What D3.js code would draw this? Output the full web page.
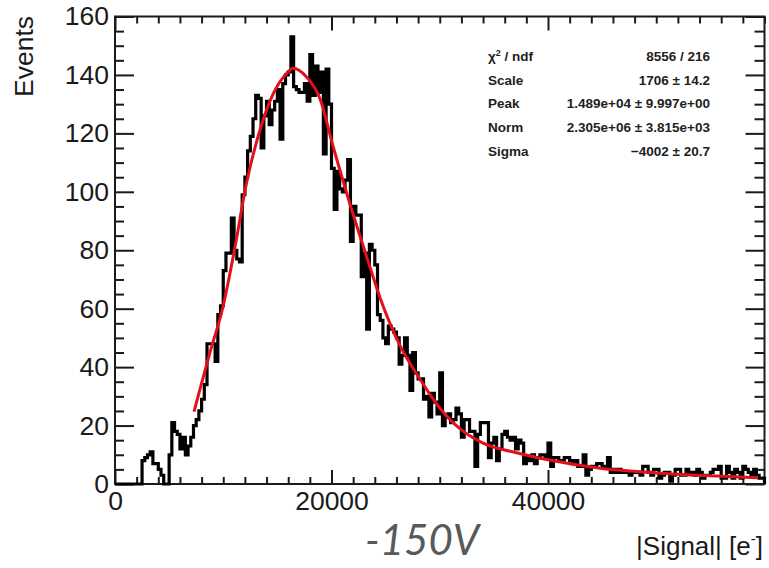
<!DOCTYPE html>
<html>
<head>
<meta charset="utf-8">
<script src="https://cdn.jsdelivr.net/npm/d3@7/dist/d3.min.js"></script>
<style>
	html, body { margin: 0; padding: 0; background: #fff; }
	svg { display: block; font-family: "Liberation Sans", Arial, sans-serif; }
	.axis text { font-size: 26.5px; fill: #1a1a1a; }
	.axis line { stroke: #1a1a1a; stroke-width: 2px; }
	.axis path { display: none; }
	.stats text { font-size: 13.5px; font-weight: bold; fill: #1e1e1e; }
</style>
</head>
<body>
<svg id="chart" width="769" height="568"></svg>
<script>
// histogram: 240 bins of 250 e- starting at 0
var binStart = 0,
	binWidth = 250;

var counts = [
	0, 0, 0, 0, 0, 0, 0, 0, 0, 0,
	8, 9, 10, 11, 7, 7, 5, 3, 0, 0,
	10, 21, 18, 17, 12, 16, 10, 13, 16, 20,
	22, 25, 29, 34, 48, 48, 48, 42, 58, 61,
	73, 79, 79, 91, 80, 77, 76, 99, 105, 114,
	119, 125, 133, 132, 115, 126, 131, 123, 128, 131,
	135, 118, 137, 140, 141, 153, 136, 135, 134, 134,
	137, 131, 147, 133, 143, 134, 141, 113, 142, 130,
	108, 94, 107, 101, 100, 104, 111, 83, 95, 92,
	92, 71, 79, 53, 82, 80, 75, 58, 56, 50,
	48, 54, 53, 52, 50, 41, 44, 50, 44, 32,
	45, 38, 36, 36, 29, 30, 23, 31, 28, 24,
	38, 20, 23, 24, 21, 22, 26, 24, 16, 22,
	22, 18, 18, 6, 17, 21, 21, 21, 9, 14,
	16, 8, 12, 17, 18, 16, 15, 16, 12, 15,
	14, 7, 9, 8, 10, 7, 9, 10, 10, 9,
	14, 6, 9, 9, 8, 8, 9, 9, 8, 7,
	8, 6, 6, 10, 3, 5, 6, 6, 7, 7,
	6, 6, 9, 4, 5, 4, 5, 4, 4, 4,
	3, 4, 4, 4, 3, 6, 6, 4, 3, 5,
	5, 2, 3, 4, 4, 1, 3, 5, 5, 3,
	3, 5, 4, 4, 3, 5, 4, 2, 3, 3,
	4, 5, 5, 6, 2, 2, 6, 4, 2, 5,
	4, 2, 6, 5, 4, 3, 5, 3, 2, 2
];

// langau fit curve, sampled
var fitX = [7300, 8000, 8770, 10000, 11080, 12150, 13380, 14610, 15850, 16460, 17650, 18920, 20150,
	21690, 23230, 24460, 26310, 28150, 30000, 32000, 34000, 37000, 40000, 45000, 50000, 55000, 59400];
var fitY = [24.8, 34.5, 45, 61, 81, 103, 121, 133.5, 140.5, 142.3, 139.5, 132, 115.5,
	96, 78, 64, 47.5, 36, 26, 18.5, 14, 10.8, 8.3, 5.3, 3.8, 2.8, 2.1];

var xMajorTicks = [0, 20000, 40000];
var yMajorTicks = [0, 20, 40, 60, 80, 100, 120, 140, 160];

var statNames = ["χ2 / ndf", "Scale", "Peak", "Norm", "Sigma"];
var statValues = ["8556 / 216", "1706 ± 14.2", "1.489e+04 ± 9.997e+00", "2.305e+06 ± 3.815e+03", "−4002 ± 20.7"];

drawHisto();

function drawHisto() {
	var svg = d3.select("#chart"),
		frame = { left: 115, right: 764.5, top: 16.5, bottom: 484 };

	var x = d3.scaleLinear().domain([0, 60000]).range([frame.left, frame.right]),
		y = d3.scaleLinear().domain([0, 160]).range([frame.bottom, frame.top]);

	var xMinor = d3.range(0, 60001, 2000).filter(function(v) { return xMajorTicks.indexOf(v) < 0; }),
		yMinor = d3.range(0, 161, 5).filter(function(v) { return yMajorTicks.indexOf(v) < 0; });

	// ticks on all four sides, pointing inwards
	svg.append("g").attr("class", "axis")
		.attr("transform", "translate(0," + frame.bottom + ")")
		.call(d3.axisBottom(x).tickValues(xMajorTicks).tickSize(-14).tickSizeOuter(0).tickPadding(7).tickFormat(d3.format("d")));
	svg.append("g").attr("class", "axis")
		.attr("transform", "translate(0," + frame.bottom + ")")
		.call(d3.axisBottom(x).tickValues(xMinor).tickSize(-7).tickSizeOuter(0).tickFormat(""));
	svg.append("g").attr("class", "axis")
		.attr("transform", "translate(0," + frame.top + ")")
		.call(d3.axisTop(x).tickValues(xMajorTicks).tickSize(-14).tickSizeOuter(0).tickFormat(""));
	svg.append("g").attr("class", "axis")
		.attr("transform", "translate(0," + frame.top + ")")
		.call(d3.axisTop(x).tickValues(xMinor).tickSize(-7).tickSizeOuter(0).tickFormat(""));

	svg.append("g").attr("class", "axis")
		.attr("transform", "translate(" + frame.left + ",0)")
		.call(d3.axisLeft(y).tickValues(yMajorTicks).tickSize(-19).tickSizeOuter(0).tickPadding(6));
	svg.append("g").attr("class", "axis")
		.attr("transform", "translate(" + frame.left + ",0)")
		.call(d3.axisLeft(y).tickValues(yMinor).tickSize(-9).tickSizeOuter(0).tickFormat(""));
	svg.append("g").attr("class", "axis")
		.attr("transform", "translate(" + frame.right + ",0)")
		.call(d3.axisRight(y).tickValues(yMajorTicks).tickSize(-19).tickSizeOuter(0).tickFormat(""));
	svg.append("g").attr("class", "axis")
		.attr("transform", "translate(" + frame.right + ",0)")
		.call(d3.axisRight(y).tickValues(yMinor).tickSize(-10).tickSizeOuter(0).tickFormat(""));

	svg.append("rect")
		.attr("x", frame.left).attr("y", frame.top)
		.attr("width", frame.right - frame.left).attr("height", frame.bottom - frame.top)
		.attr("fill", "none").attr("stroke", "#1a1a1a").attr("stroke-width", 2);

	// histogram outline
	var pts = [[binStart, 0]];
	counts.forEach(function(c, i) {
		pts.push([binStart + i * binWidth, c]);
	});
	pts.push([binStart + counts.length * binWidth, counts[counts.length - 1]]);
	pts.push([binStart + counts.length * binWidth, 0]);

	svg.append("path")
		.datum(pts)
		.attr("fill", "none")
		.attr("stroke", "#000")
		.attr("stroke-width", 3.2)
		.attr("stroke-linejoin", "miter")
		.attr("d", d3.line()
			.x(function(d) { return x(d[0]); })
			.y(function(d) { return y(d[1]); })
			.curve(d3.curveStepAfter));

	// fit
	svg.append("path")
		.datum(d3.zip(fitX, fitY))
		.attr("fill", "none")
		.attr("stroke", "#e3101b")
		.attr("stroke-width", 3)
		.attr("d", d3.line()
			.x(function(d) { return x(d[0]); })
			.y(function(d) { return y(d[1]); })
			.curve(d3.curveMonotoneX));

	// stats box
	var stats = svg.append("g").attr("class", "stats");
	statNames.forEach(function(name, i) {
		var yy = 61 + i * 23.7;
		var t = stats.append("text").attr("x", 488).attr("y", yy);
		if (i === 0) {
			t.append("tspan").text("χ");
			t.append("tspan").attr("dy", -5).style("font-size", "9px").text("2");
			t.append("tspan").attr("dy", 5).text(" / ndf");
		} else {
			t.text(name);
		}
		stats.append("text").attr("x", 710).attr("y", yy).attr("text-anchor", "end").text(statValues[i]);
	});

	// axis titles
	svg.append("text")
		.attr("transform", "translate(33,16) rotate(-90)")
		.attr("text-anchor", "end")
		.style("font-size", "26.5px")
		.attr("fill", "#1a1a1a")
		.text("Events");

	var xt = svg.append("text")
		.attr("x", 763).attr("y", 555)
		.attr("text-anchor", "end")
		.style("font-size", "26px")
		.attr("fill", "#1a1a1a");
	xt.append("tspan").text("|Signal| [e");
	xt.append("tspan").attr("dy", -11).style("font-size", "15px").text("-");
	xt.append("tspan").attr("dy", 11).text("]");

	svg.append("text")
		.attr("x", 365).attr("y", 555)
		.style("font-family", "Lato, 'Open Sans', sans-serif")
		.style("font-style", "italic")
		.style("font-size", "42px")
		.attr("fill", "#595959")
		.text("-150V");
}
</script>
</body>
</html>
